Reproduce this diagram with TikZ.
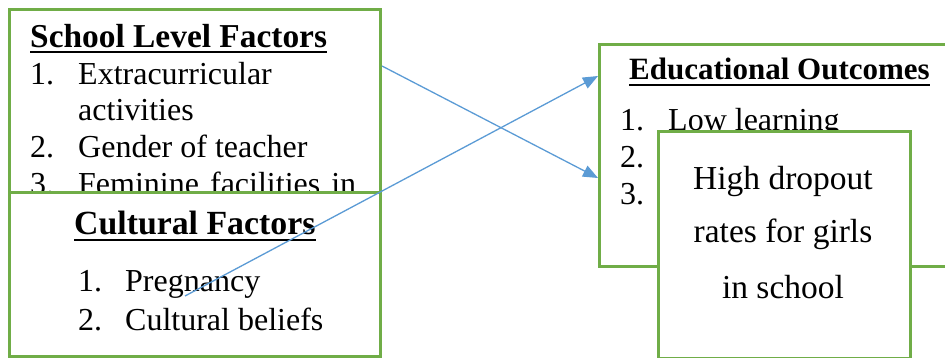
\documentclass[tikz,border=0pt]{standalone}
\usepackage{fontspec}
\setmainfont{Liberation Serif}
\usetikzlibrary{arrows.meta}
\definecolor{boxgreen}{HTML}{70AD47}
\definecolor{linkblue}{HTML}{5B9BD5}
\tikzset{
 panel/.style={draw=boxgreen, line width=3pt, fill=white, anchor=north west, inner sep=0pt},
 txt/.style={anchor=base west, inner sep=0pt, font=\fontsize{32}{37}\selectfont},
 ttl/.style={anchor=base west, inner sep=0pt, font=\fontsize{#1}{37}\selectfont\bfseries},
 ctr/.style={anchor=base, inner sep=0pt, font=\fontsize{33.5}{37}\selectfont},
 uline/.style={line width=2.4pt},
 link/.style={draw=linkblue, line width=1.3pt, -{Triangle[length=15pt,width=12pt]}}
}
\begin{document}
\begin{tikzpicture}[x=1pt,y=-1pt]
\useasboundingbox (0,0) rectangle (945,358);
\clip (0,0) rectangle (945,358);
% School level factors
\node[panel, minimum width=371pt, minimum height=330pt] (school) at (8,8) {};
\node[ttl=33.4] (st) at (30,48) {School Level Factors};
\draw[uline] ([yshift=-4pt]st.base west) -- ([yshift=-4pt]st.base east);
\node[txt] (s1n) at (30,85) {1.};
\node[txt] (s1) at (78,85) {Extracurricular};
\node[txt] (s1b) at (78,121) {activities};
\node[txt] (s2n) at (30,158) {2.};
\node[txt] (s2) at (78,158) {Gender of teacher};
\node[txt] (s3n) at (30,195) {3.};
\node[txt] (s3) at (78,195) {\makebox[278pt][s]{Feminine facilities in}};
% Cultural factors
\node[panel, minimum width=371pt, minimum height=164pt] (cult) at (8,191) {};
\node[ttl=33.8] (ct) at (74,235) {Cultural Factors};
\draw[uline] ([yshift=-5pt]ct.base west) -- ([yshift=-5pt]ct.base east);
\node[txt] (c1n) at (78,291) {1.};
\node[txt] (c1) at (125,291) {Pregnancy};
\node[txt] (c2n) at (78,330) {2.};
\node[txt] (c2) at (125,330) {Cultural beliefs};
% Educational outcomes
\node[panel, minimum width=400pt, minimum height=222pt] (edu) at (598,43) {};
\node[ttl=31] (et) at (629,80) {Educational Outcomes};
\draw[uline] ([yshift=-5pt]et.base west) -- ([yshift=-5pt]et.base east);
\node[txt] (e1n) at (620,131) {1.};
\node[txt] (e1) at (668,131) {Low learning};
\node[txt] (e2n) at (620,168) {2.};
\node[txt] (e3n) at (620,205) {3.};
% Dropout box
\node[panel, minimum width=252pt, minimum height=227pt] (drop) at (657,130) {};
\node[ctr] (d1) at (783,190) {High dropout};
\node[ctr] (d2) at (783,243) {rates for girls};
\node[ctr] (d3) at (783,298) {in school};
% connectors
\coordinate (preg) at (185,296);
\draw[link] (school.east |- 0,66) -- (edu.west |- 0,178);
\draw[link] (preg) -- (edu.west |- 0,76);
\end{tikzpicture}
\end{document}
